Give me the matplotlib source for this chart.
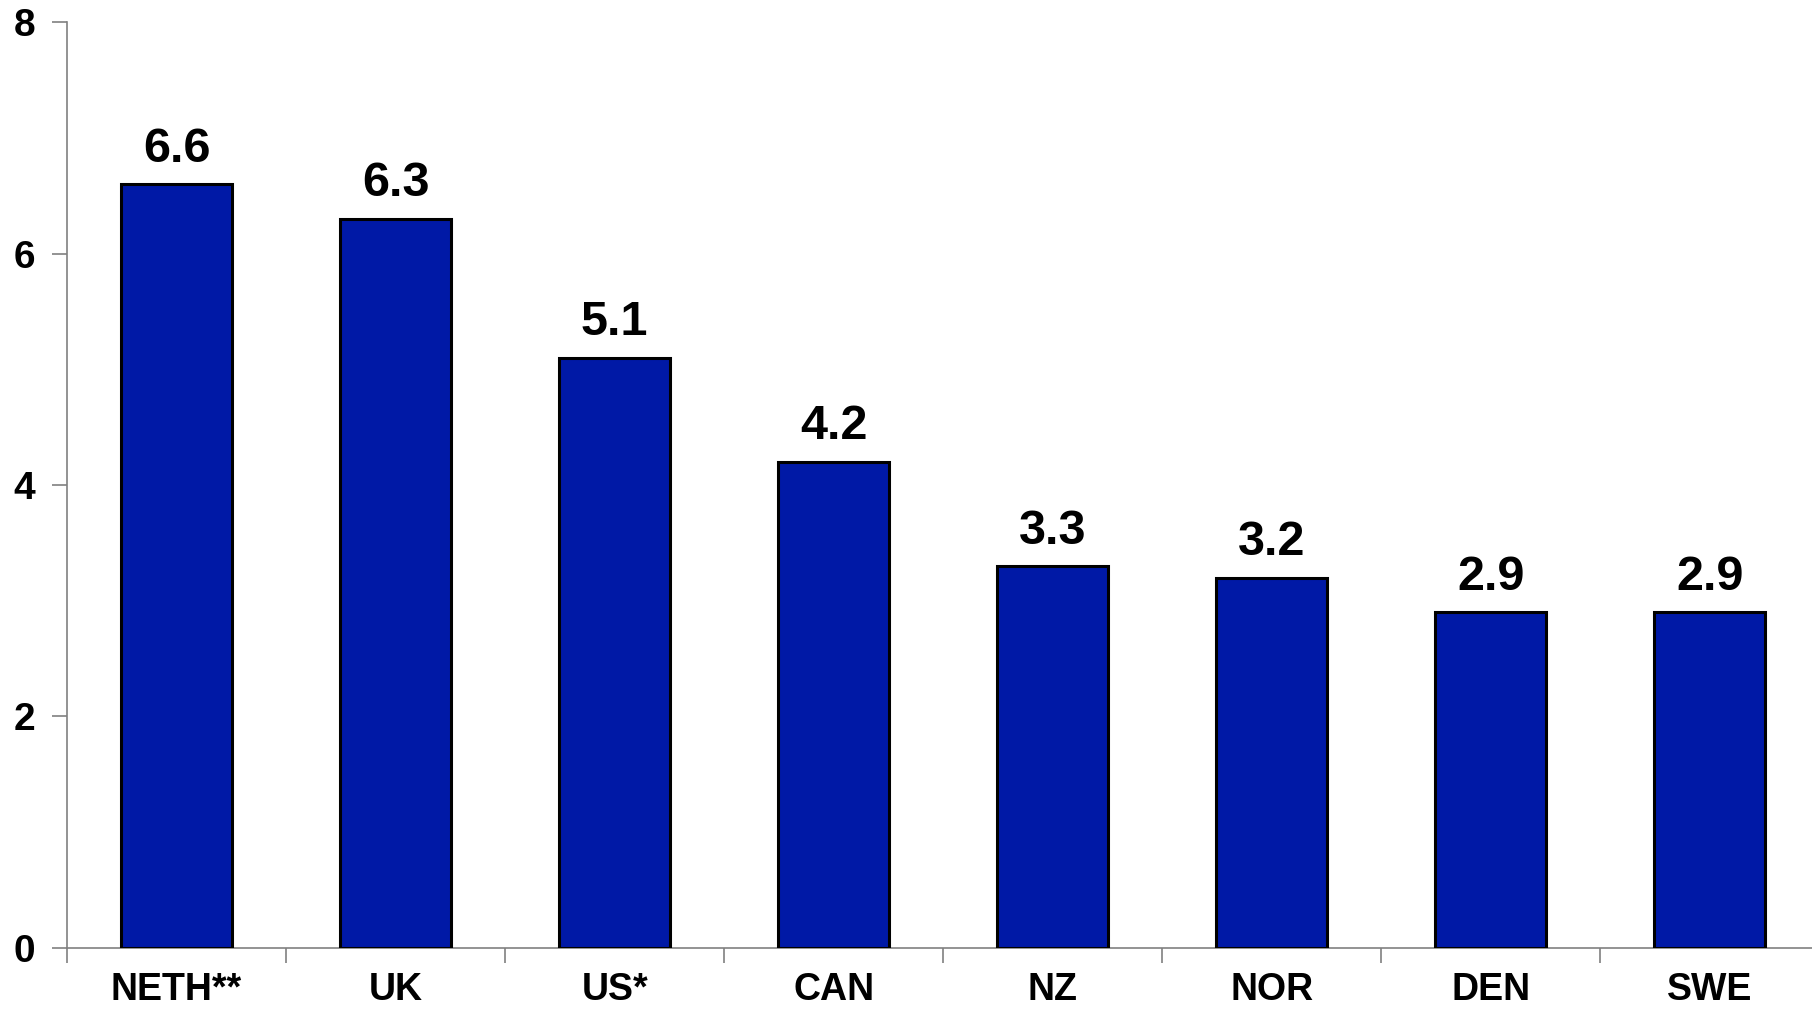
import matplotlib.pyplot as plt
import numpy as np

# data
countries = ["NETH**", "UK", "US*", "CAN", "NZ", "NOR", "DEN", "SWE"]
values = [6.6, 6.3, 5.1, 4.2, 3.3, 3.2, 2.9, 2.9]
y_ticks = [0, 2, 4, 6, 8]

plt.rcParams["font.family"] = ["Liberation Sans", "DejaVu Sans"]

fig = plt.figure(figsize=(18.12, 10.10), dpi=100)
# axes runs slightly past the right edge, as in the reference
ax = fig.add_axes([0.037, 0.0614, 0.967, 0.9168])

x = np.arange(len(countries))
bars = ax.bar(x, values, width=0.507, color="#0019A6",
              edgecolor="black", linewidth=2.2, zorder=3)

for bar, v in zip(bars, values):
    ax.annotate(f"{v:.1f}", (bar.get_x() + bar.get_width() / 2, v),
                xytext=(0, 9), textcoords="offset points",
                ha="center", va="bottom", fontsize=35, fontweight="bold")

ax.set_xlim(-0.5, len(countries) - 0.5)
ax.set_ylim(0, 8)
ax.set_yticks(y_ticks)
ax.set_yticklabels([str(t) for t in y_ticks], fontsize=28, fontweight="bold")

# category separators as ticks, names centred under the bars
ax.set_xticks(np.arange(len(countries)) - 0.5, minor=False)
ax.set_xticklabels([])
ax.set_xticks(x, minor=True)
ax.set_xticklabels(countries, minor=True, fontsize=27, fontweight="bold")
ax.tick_params(axis="x", which="minor", length=0, pad=17)
ax.tick_params(axis="x", which="major", length=11, width=1.2, color="#808080")
ax.tick_params(axis="y", length=11, width=1.2, color="#808080", pad=12)

for side in ("top", "right"):
    ax.spines[side].set_visible(False)
for side in ("left", "bottom"):
    ax.spines[side].set_color("#808080")
    ax.spines[side].set_linewidth(1.2)

fig.savefig("out.png", dpi=100)
